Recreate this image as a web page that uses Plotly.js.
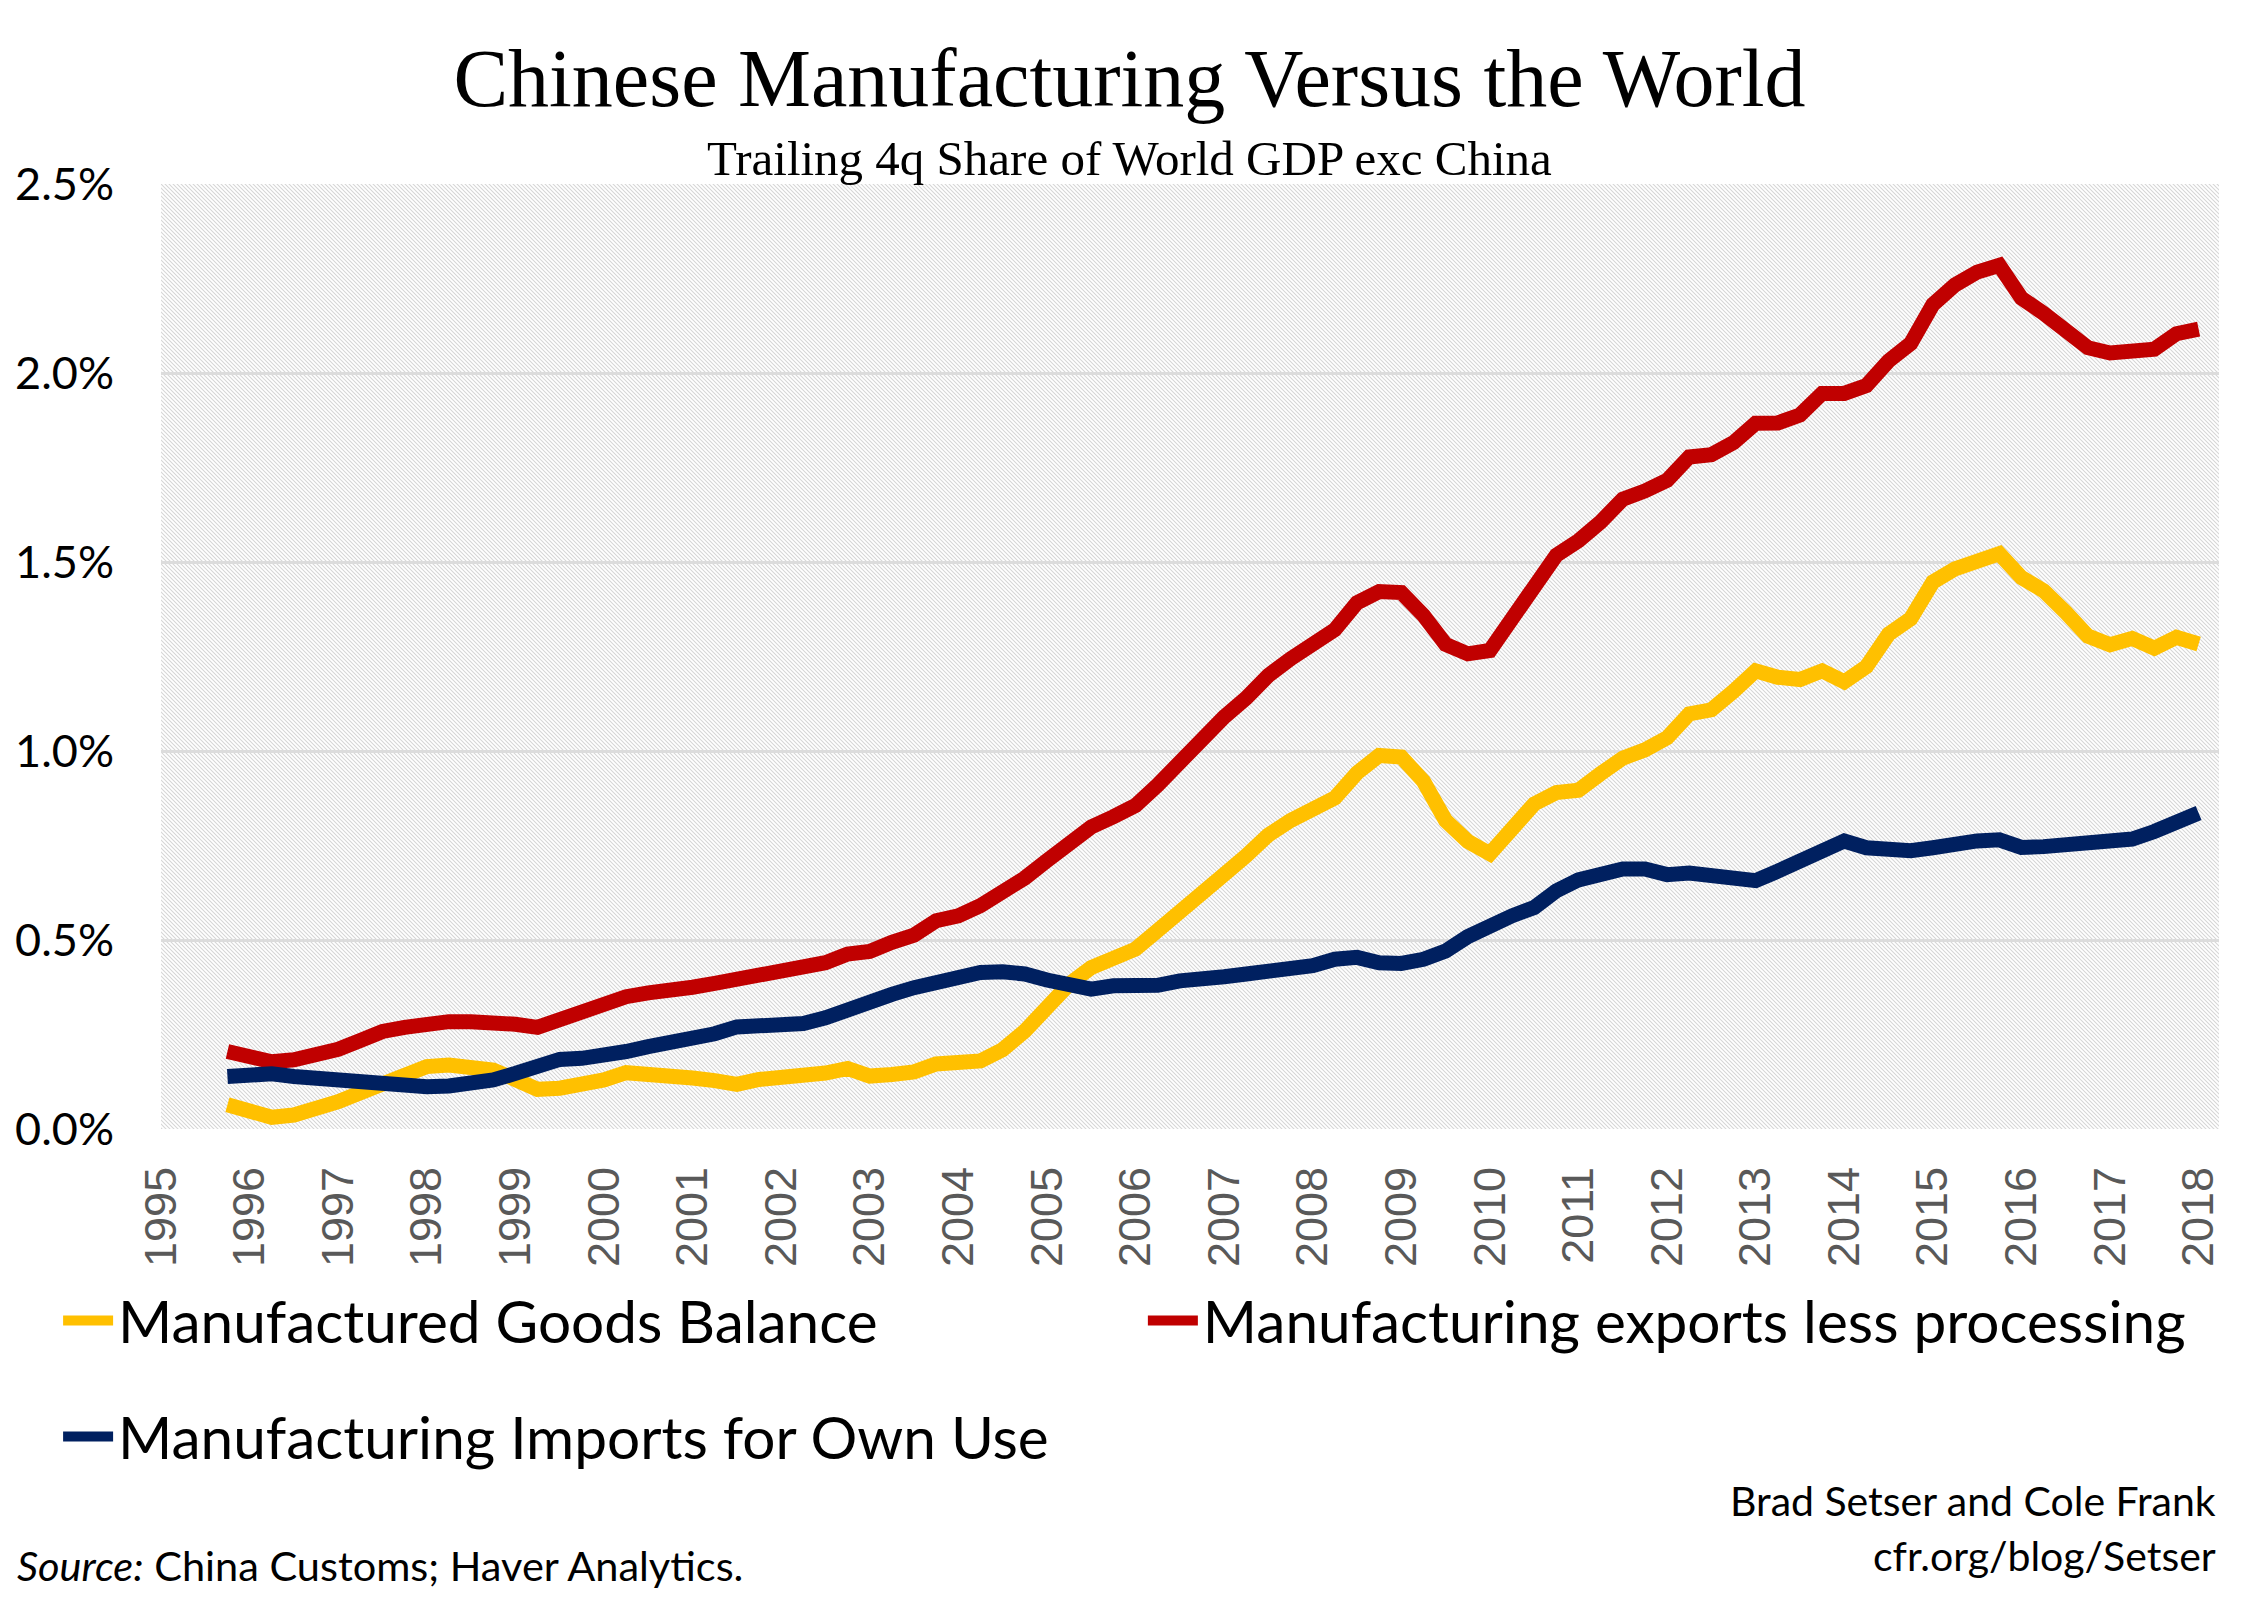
<!DOCTYPE html>
<html>
<head>
<meta charset="utf-8">
<script src="https://cdn.plot.ly/plotly-3.0.1.min.js"></script>
<style>
  html, body { margin: 0; padding: 0; background: #ffffff; }
  #chart { width: 2250px; height: 1603px; }
</style>
</head>
<body>
<div id="chart"></div>
<script>
// Quarterly periods (1995Q4 .. 2018Q1)
const periods = [
  "1995Q4",
  "1996Q1","1996Q2","1996Q3","1996Q4",
  "1997Q1","1997Q2","1997Q3","1997Q4",
  "1998Q1","1998Q2","1998Q3","1998Q4",
  "1999Q1","1999Q2","1999Q3","1999Q4",
  "2000Q1","2000Q2","2000Q3","2000Q4",
  "2001Q1","2001Q2","2001Q3","2001Q4",
  "2002Q1","2002Q2","2002Q3","2002Q4",
  "2003Q1","2003Q2","2003Q3","2003Q4",
  "2004Q1","2004Q2","2004Q3","2004Q4",
  "2005Q1","2005Q2","2005Q3","2005Q4",
  "2006Q1","2006Q2","2006Q3","2006Q4",
  "2007Q1","2007Q2","2007Q3","2007Q4",
  "2008Q1","2008Q2","2008Q3","2008Q4",
  "2009Q1","2009Q2","2009Q3","2009Q4",
  "2010Q1","2010Q2","2010Q3","2010Q4",
  "2011Q1","2011Q2","2011Q3","2011Q4",
  "2012Q1","2012Q2","2012Q3","2012Q4",
  "2013Q1","2013Q2","2013Q3","2013Q4",
  "2014Q1","2014Q2","2014Q3","2014Q4",
  "2015Q1","2015Q2","2015Q3","2015Q4",
  "2016Q1","2016Q2","2016Q3","2016Q4",
  "2017Q1","2017Q2","2017Q3","2017Q4",
  "2018Q1"
];

// Manufactured Goods Balance (% of world GDP exc China)
const goodsBalance = [
  0.064,
  0.046, 0.031, 0.037, 0.050,
  0.072, 0.096, 0.119, 0.146,
  0.165, 0.169, 0.163, 0.156,
  0.131, 0.105, 0.108, 0.116,
  0.130, 0.149, 0.147, 0.140,
  0.135, 0.128, 0.118, 0.131,
  0.135, 0.144, 0.148, 0.160,
  0.140, 0.144, 0.151, 0.172,
  0.172, 0.180, 0.210, 0.259,
  0.321, 0.383, 0.427, 0.449,
  0.476, 0.525, 0.578, 0.630,
  0.673, 0.723, 0.778, 0.816,
  0.846, 0.876, 0.942, 0.988,
  0.984, 0.920, 0.816, 0.761,
  0.728, 0.794, 0.860, 0.890,
  0.896, 0.940, 0.981, 1.003,
  1.035, 1.098, 1.109, 1.158,
  1.212, 1.195, 1.189, 1.212,
  1.183, 1.223, 1.309, 1.350,
  1.447, 1.482, 1.505, 1.522,
  1.459, 1.424, 1.367, 1.304,
  1.281, 1.298, 1.272, 1.301,
  1.283
];

// Manufacturing exports less processing
const exportsLessProcessing = [
  0.205,
  0.187, 0.178, 0.183, 0.193,
  0.211, 0.234, 0.258, 0.269,
  0.281, 0.284, 0.284, 0.284,
  0.277, 0.269, 0.290, 0.306,
  0.328, 0.350, 0.360, 0.365,
  0.375, 0.385, 0.396, 0.410,
  0.417, 0.422, 0.440, 0.463,
  0.470, 0.494, 0.513, 0.551,
  0.564, 0.591, 0.622, 0.664,
  0.710, 0.759, 0.799, 0.826,
  0.856, 0.910, 0.972, 1.030,
  1.090, 1.140, 1.200, 1.244,
  1.282, 1.321, 1.392, 1.422,
  1.419, 1.359, 1.282, 1.257,
  1.266, 1.343, 1.434, 1.518,
  1.556, 1.606, 1.666, 1.688,
  1.716, 1.778, 1.784, 1.816,
  1.867, 1.868, 1.889, 1.946,
  1.946, 1.967, 2.032, 2.078,
  2.181, 2.233, 2.267, 2.285,
  2.198, 2.158, 2.112, 2.067,
  2.053, 2.063, 2.063, 2.104,
  2.116
];

// Manufacturing Imports for Own Use
const importsOwnUse = [
  0.139,
  0.143, 0.146, 0.139, 0.134,
  0.128, 0.123, 0.119, 0.114,
  0.112, 0.114, 0.119, 0.130,
  0.147, 0.165, 0.184, 0.187,
  0.193, 0.205, 0.218, 0.228,
  0.242, 0.252, 0.270, 0.271,
  0.272, 0.279, 0.294, 0.317,
  0.341, 0.356, 0.374, 0.387,
  0.401, 0.414, 0.416, 0.410,
  0.394, 0.379, 0.370, 0.379,
  0.379, 0.380, 0.392, 0.394,
  0.403, 0.410, 0.416, 0.427,
  0.432, 0.449, 0.454, 0.440,
  0.438, 0.449, 0.471, 0.509,
  0.542, 0.564, 0.586, 0.630,
  0.659, 0.670, 0.688, 0.688,
  0.673, 0.677, 0.672, 0.658,
  0.657, 0.682, 0.710, 0.742,
  0.762, 0.744, 0.736, 0.736,
  0.744, 0.757, 0.762, 0.765,
  0.745, 0.747, 0.753, 0.759,
  0.765, 0.767, 0.787, 0.808,
  0.836
];

const yearTicks = ["1995","1996","1997","1998","1999","2000","2001","2002","2003","2004","2005","2006",
                   "2007","2008","2009","2010","2011","2012","2013","2014","2015","2016","2017","2018"];
const yTickVals = [0, 0.5, 1.0, 1.5, 2.0, 2.5];
const yTickText = ["0.0%","0.5%","1.0%","1.5%","2.0%","2.5%"];

const seriesNames = ["Manufactured Goods Balance", "Manufacturing exports less processing", "Manufacturing Imports for Own Use"];
const seriesColors = ["#FFC000", "#C00000", "#002060"];

// quarter label -> fractional year position on the axis
const xPos = periods.map(p => Number(p.slice(0, 4)) + (Number(p.slice(5)) - 1) / 4);

const sansFont = "Lato, 'Open Sans', sans-serif";
const serifFont = "'Liberation Serif', 'DejaVu Serif', serif";

function lineTrace(name, values, color, legendId) {
  return {
    type: "scatter", mode: "lines", name: name,
    x: xPos, y: values,
    line: { color: color, width: 15, shape: "linear" },
    legend: legendId,
    hoverinfo: "skip"
  };
}

const traces = [
  lineTrace(seriesNames[0], goodsBalance, seriesColors[0], "legend"),
  lineTrace(seriesNames[1], exportsLessProcessing, seriesColors[1], "legend2"),
  lineTrace(seriesNames[2], importsOwnUse, seriesColors[2], "legend3")
];

// hatched plot background
const W = 2058, H = 945;
const hatchSvg =
  "<svg xmlns='http://www.w3.org/2000/svg' width='" + W + "' height='" + H + "'>" +
  "<defs><pattern id='h' width='4' height='4' patternUnits='userSpaceOnUse'>" +
  "<path d='M-1,-1 L5,5 M-1,3 L1,5 M3,-1 L5,1' stroke='#d6d6d6' stroke-width='1.1'/>" +
  "</pattern></defs><rect width='100%' height='100%' fill='#ffffff'/>" +
  "<rect width='100%' height='100%' fill='url(#h)'/></svg>";

const legendBase = {
  orientation: "v", xanchor: "left", yanchor: "middle",
  bgcolor: "rgba(0,0,0,0)", borderwidth: 0,
  font: { family: sansFont, size: 58.5, color: "#000000" },
  itemwidth: 50
};

const layout = {
  width: 2250, height: 1603,
  paper_bgcolor: "#ffffff",
  plot_bgcolor: "rgba(0,0,0,0)",
  margin: { l: 161, r: 31, t: 184, b: 474 },
  showlegend: true,
  title: {
    text: "Chinese Manufacturing Versus the World",
    font: { family: serifFont, size: 82, color: "#000000" },
    xref: "container", x: 0.502, xanchor: "center",
    yref: "container", y: 0.952, yanchor: "middle"
  },
  xaxis: {
    range: [1995, 2018.23],
    tickmode: "array",
    tickvals: yearTicks.map(Number),
    ticktext: yearTicks,
    tickangle: -90,
    ticks: "",
    ticklabelstandoff: 28,
    tickfont: { family: "'Liberation Sans', Arial, sans-serif", size: 45, color: "#595959" },
    showgrid: false, zeroline: false, showline: false,
    fixedrange: true
  },
  yaxis: {
    range: [0, 2.5],
    tickmode: "array",
    tickvals: yTickVals,
    ticktext: yTickText,
    ticks: "",
    ticklabelstandoff: 46,
    tickfont: { family: sansFont, size: 45, color: "#000000" },
    showgrid: true, gridcolor: "#dcdcdc", gridwidth: 3,
    zeroline: false, showline: false,
    fixedrange: true
  },
  legend: Object.assign({}, legendBase, { x: -0.050, y: -0.2032 }),
  legend2: Object.assign({}, legendBase, { x: 0.4771, y: -0.2032 }),
  legend3: Object.assign({}, legendBase, { x: -0.050, y: -0.3259 }),
  images: [{
    source: "data:image/svg+xml;charset=utf-8," + encodeURIComponent(hatchSvg),
    xref: "paper", yref: "paper", x: 0, y: 1, sizex: 1, sizey: 1,
    xanchor: "left", yanchor: "top", sizing: "stretch", layer: "below"
  }],
  annotations: [
    {
      text: "Trailing 4q Share of World GDP exc China",
      xref: "paper", yref: "paper", x: 0.4708, y: 1.0275,
      xanchor: "center", yanchor: "middle", showarrow: false,
      font: { family: serifFont, size: 49, color: "#000000" }
    },
    {
      text: "Brad Setser and Cole Frank",
      xref: "paper", yref: "paper", x: 0.9995, y: -0.393,
      xanchor: "right", yanchor: "middle", showarrow: false,
      font: { family: sansFont, size: 41, color: "#000000" }
    },
    {
      text: "cfr.org/blog/Setser",
      xref: "paper", yref: "paper", x: 0.9995, y: -0.451,
      xanchor: "right", yanchor: "middle", showarrow: false,
      font: { family: sansFont, size: 41, color: "#000000" }
    },
    {
      text: "<i>Source:</i> China Customs; Haver Analytics.",
      xref: "paper", yref: "paper", x: -0.0709, y: -0.461,
      xanchor: "left", yanchor: "middle", showarrow: false,
      font: { family: sansFont, size: 41.5, color: "#000000" }
    }
  ]
};

Plotly.newPlot("chart", traces, layout, { displayModeBar: false, staticPlot: true });
</script>
</body>
</html>
